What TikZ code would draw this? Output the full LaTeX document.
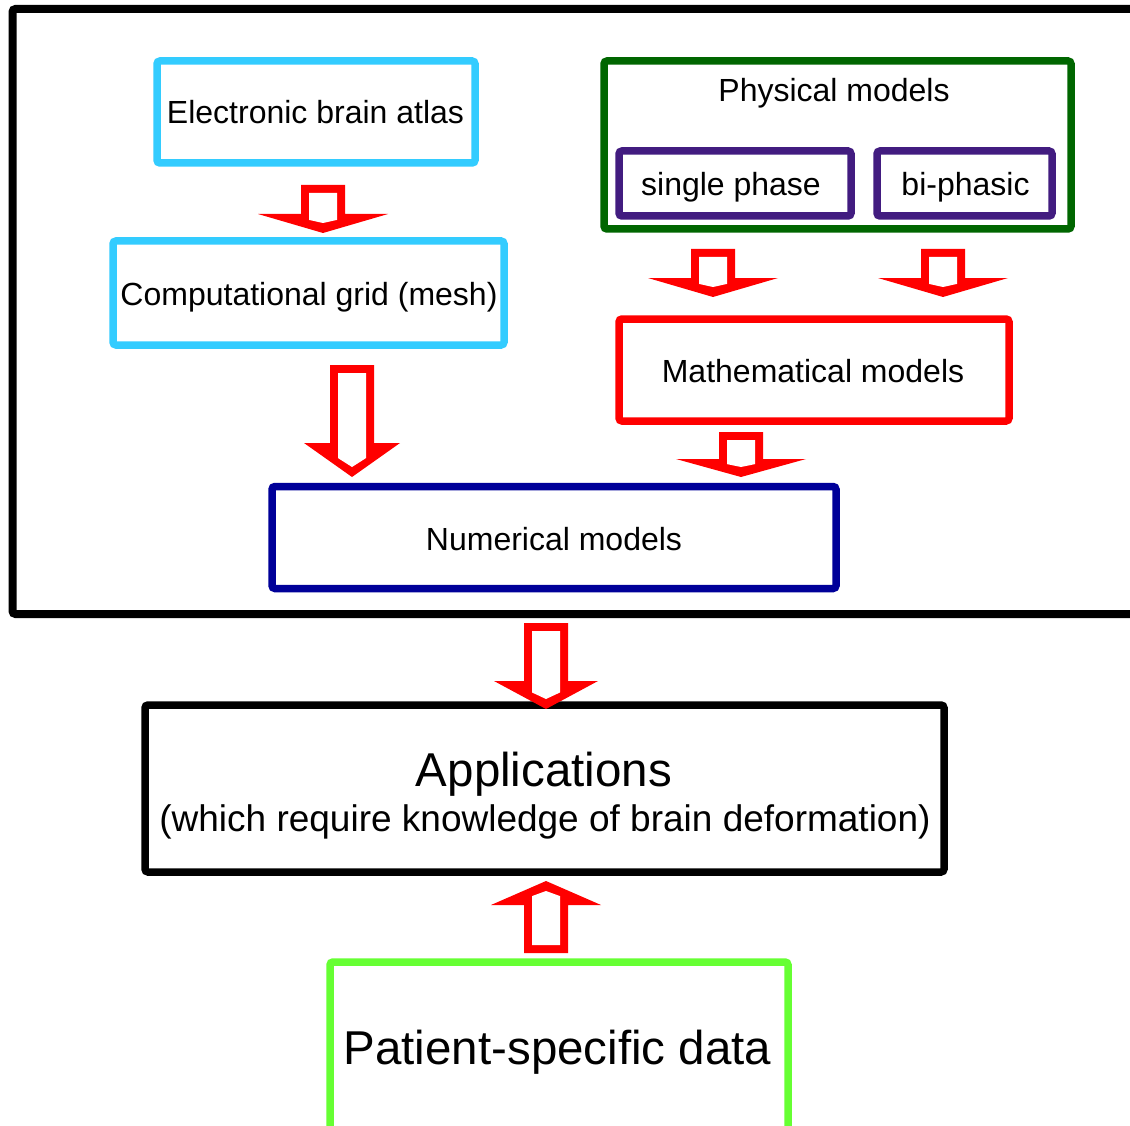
\documentclass[tikz,border=0pt]{standalone}
\usepackage{fontspec}
\setmainfont{Liberation Sans}
\definecolor{atlascyan}{HTML}{33CCFF}
\definecolor{physgreen}{HTML}{006600}
\definecolor{phasepurple}{HTML}{421C80}
\definecolor{numblue}{HTML}{000099}
\definecolor{patgreen}{HTML}{66FF33}
\definecolor{arrowred}{HTML}{FF0000}

% hollow block arrow pointing down: #1 centre x, #2 top, #3 head base, #4 tip, #5 head half width
\newcommand\downblock[5]{%
  \fill[arrowred] ({#1-22},#2) -- ({#1+22},#2) -- ({#1+22},#3) -- ({#1+#5},#3)
    -- (#1,#4) -- ({#1-#5},#3) -- ({#1-22},#3) -- cycle;
  \fill[white] ({#1-14},{#2+8}) -- ({#1+14},{#2+8})
    -- ({#1+14},{#3+(#4-#3)*(#5-14)/#5-9}) -- (#1,{#4-10})
    -- ({#1-14},{#3+(#4-#3)*(#5-14)/#5-9}) -- cycle;}
% hollow block arrow pointing up: #1 centre x, #2 bottom, #3 head base, #4 tip, #5 head half width
\newcommand\upblock[5]{%
  \fill[arrowred] ({#1-22},#2) -- ({#1+22},#2) -- ({#1+22},#3) -- ({#1+#5},#3)
    -- (#1,#4) -- ({#1-#5},#3) -- ({#1-22},#3) -- cycle;
  \fill[white] ({#1-14},{#2-8}) -- ({#1+14},{#2-8})
    -- ({#1+14},{#3+(#4-#3)*(#5-14)/#5+9}) -- (#1,{#4+10})
    -- ({#1-14},{#3+(#4-#3)*(#5-14)/#5+9}) -- cycle;}

\begin{document}
\begin{tikzpicture}[x=1pt,y=-1pt,
  box/.style={draw, line width=7.5, rounded corners=3, inner sep=0, fill=none},
  txt/.style={anchor=base, inner sep=0, font=\fontsize{32}{38}\selectfont},
  bigtxt/.style={anchor=base, inner sep=0, font=\fontsize{47.5}{56}\selectfont}]
\clip (0,0) rectangle (1130,1126);
\fill[white] (0,0) rectangle (1130,1126);

% frame around the modelling stages
\draw[line width=8, rounded corners=3] (1145,9) -- (12.5,9) -- (12.5,614) -- (1145,614);

% boxes
\node[box, draw=atlascyan, minimum width=318, minimum height=102] (atlas) at (316,112) {};
\node[box, draw=atlascyan, minimum width=391, minimum height=104] (grid) at (308.5,293) {};
\node[box, draw=physgreen, minimum width=467, minimum height=168] (phys) at (837.5,145) {};
\node[box, draw=phasepurple, minimum width=232, minimum height=65] (single) at (735,183.5) {};
\node[box, draw=phasepurple, minimum width=175, minimum height=65] (biph) at (964.5,183.5) {};
\node[box, draw=arrowred, minimum width=390, minimum height=102] (math) at (814,370) {};
\node[box, draw=numblue, minimum width=564, minimum height=102] (num) at (554,537.5) {};
\node[box, draw=black, minimum width=799, minimum height=167] (apps) at (544.5,788.5) {};
\node[box, draw=patgreen, minimum width=458, minimum height=190] (patient) at (559,1057) {};

% labels
\node[txt] (atlasT) at (315.5,124) {Electronic brain atlas};
\node[txt] (gridT) at (309,305) {Computational grid (mesh)};
\node[txt] (physT) at (834,102) {Physical models};
\node[txt] (singleT) at (731,196) {single phase};
\node[txt] (biphT) at (965.5,196) {bi-phasic};
\node[txt] (mathT) at (813,382) {Mathematical models};
\node[txt] (numT) at (554,550) {Numerical models};
\node[bigtxt] (appsT) at (544,786) {Applications};
\node[anchor=base, inner sep=0, font=\fontsize{37}{44}\selectfont] (appsT2) at (545,831)
  {(which require knowledge of brain deformation)};
\node[bigtxt] (patientT) at (557.5,1064) {Patient-specific data};

% block arrows
\downblock{323}{185}{214}{233}{65}
\downblock{352}{365}{443}{477}{48}
\downblock{713}{249}{278}{297}{65}
\downblock{943}{249}{278}{297}{65}
\downblock{741}{432}{459}{477}{65}
\downblock{546}{623}{681}{709}{52}
\upblock{546}{953}{905}{881}{55}
\end{tikzpicture}
\end{document}
